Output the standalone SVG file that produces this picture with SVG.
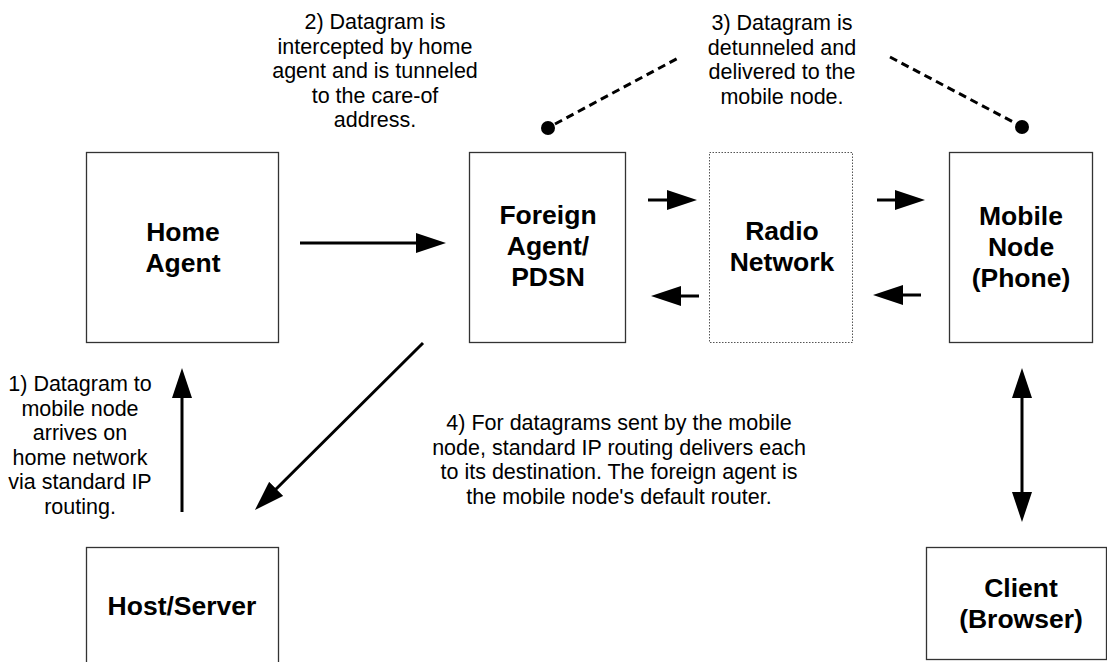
<svg xmlns="http://www.w3.org/2000/svg" width="1107" height="662" viewBox="0 0 1107 662">
<style>
.box{fill:#fff;stroke:#333;stroke-width:1.3}
.dotbox{fill:#fff;stroke:#555;stroke-width:1;stroke-dasharray:1.5 1.5}
.lbl{font-family:"Liberation Sans",Arial,sans-serif;font-weight:bold;font-size:26.5px;fill:#000;text-anchor:middle}
.note{font-family:"Liberation Sans",Arial,sans-serif;font-size:21.5px;fill:#000;text-anchor:middle}
.arr{stroke:#000;stroke-width:3;fill:none;marker-end:url(#ah)}
.dash{stroke:#000;stroke-width:3;fill:none;stroke-dasharray:8 5}
</style>
<defs>
<marker id="ah" markerUnits="userSpaceOnUse" markerWidth="30" markerHeight="20" refX="20" refY="10" orient="auto-start-reverse" viewBox="0 0 30 20">
<path d="M0,0 L30,10 L0,20 z" fill="#000"/>
</marker>
</defs>
<rect width="1107" height="662" fill="#fff"/>
<g id="home-agent">
<rect class="box" x="86.5" y="152.5" width="192" height="190"/>
<text class="lbl" x="183" y="241">Home</text>
<text class="lbl" x="183" y="272">Agent</text>
</g>
<g id="foreign-agent">
<rect class="box" x="469.5" y="152.5" width="156" height="190"/>
<text class="lbl" x="548" y="224">Foreign</text>
<text class="lbl" x="548" y="255">Agent/</text>
<text class="lbl" x="548" y="286">PDSN</text>
</g>
<g id="radio-network">
<rect class="dotbox" x="709.5" y="152.5" width="143" height="190"/>
<text class="lbl" x="782" y="240">Radio</text>
<text class="lbl" x="782" y="271">Network</text>
</g>
<g id="mobile-node">
<rect class="box" x="949.5" y="152.5" width="143" height="190"/>
<text class="lbl" x="1021" y="225">Mobile</text>
<text class="lbl" x="1021" y="256">Node</text>
<text class="lbl" x="1021" y="287">(Phone)</text>
</g>
<g id="host-server">
<rect class="box" x="86.5" y="547.5" width="192" height="130"/>
<text class="lbl" x="182" y="615">Host/Server</text>
</g>
<g id="client">
<rect class="box" x="926.5" y="547.5" width="180" height="112"/>
<text class="lbl" x="1021" y="597">Client</text>
<text class="lbl" x="1021" y="628">(Browser)</text>
</g>
<g id="connectors">
<line class="arr" x1="300" y1="243" x2="436" y2="243"/>
<line class="arr" x1="648" y1="200" x2="687" y2="200"/>
<line class="arr" x1="699" y1="296" x2="661" y2="296"/>
<line class="arr" x1="877" y1="200" x2="915" y2="200"/>
<line class="arr" x1="921" y1="295" x2="883" y2="295"/>
<line class="arr" x1="182" y1="512" x2="182" y2="378"/>
<line class="arr" x1="423" y1="343" x2="262" y2="503"/>
<line class="arr" x1="1022" y1="378" x2="1022" y2="512" style="marker-start:url(#ah)"/>
<line class="dash" x1="555" y1="124" x2="680" y2="57"/>
<line class="dash" x1="890" y1="57" x2="1015" y2="123"/>
<circle cx="548" cy="128" r="7" fill="#000"/>
<circle cx="1022" cy="127" r="7" fill="#000"/>
</g>
<g id="notes">
<text class="note" x="80"><tspan x="80" y="391">1) Datagram to</tspan><tspan x="80" y="415.5">mobile node</tspan><tspan x="80" y="440">arrives on</tspan><tspan x="80" y="464.5">home network</tspan><tspan x="80" y="489">via standard IP</tspan><tspan x="80" y="513.5">routing.</tspan></text>
<text class="note"><tspan x="375" y="29">2) Datagram is</tspan><tspan x="375" y="53.5">intercepted by home</tspan><tspan x="375" y="78">agent and is tunneled</tspan><tspan x="375" y="102.5">to the care-of</tspan><tspan x="375" y="127">address.</tspan></text>
<text class="note"><tspan x="782" y="30">3) Datagram is</tspan><tspan x="782" y="54.5">detunneled and</tspan><tspan x="782" y="79">delivered to the</tspan><tspan x="782" y="103.5">mobile node.</tspan></text>
<text class="note"><tspan x="619" y="430">4) For datagrams sent by the mobile</tspan><tspan x="619" y="454.5">node, standard IP routing delivers each</tspan><tspan x="619" y="479">to its destination. The foreign agent is</tspan><tspan x="619" y="503.5">the mobile node's default router.</tspan></text>
</g>
</svg>
